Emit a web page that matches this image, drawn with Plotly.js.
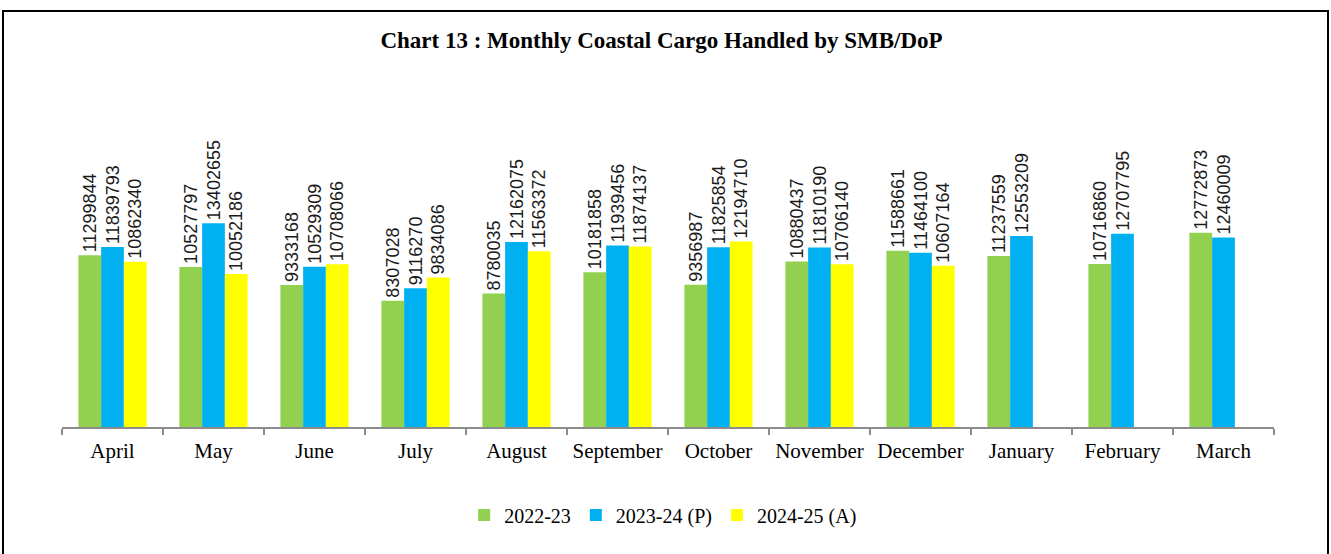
<!DOCTYPE html>
<html>
<head>
<meta charset="utf-8">
<script src="https://cdn.plot.ly/plotly-3.0.1.min.js"></script>
<style>
html,body{margin:0;padding:0;background:#fff;overflow:hidden;}
#chart{width:1331px;height:554px;}
#frame{position:absolute;left:2px;top:10px;width:1323px;height:560px;border:2px solid #000;pointer-events:none;}
</style>
</head>
<body>
<div id="chart"></div>
<div id="frame"></div>
<script>
const months = ["April","May","June","July","August","September","October","November","December","January","February","March"];
const s2022 = [11299844,10527797,9333168,8307028,8780035,10181858,9356987,10880437,11588661,11237559,10716860,12772873];
const s2023 = [11839793,13402655,10529309,9116270,12162075,11939456,11825854,11810190,11464100,12553209,12707795,12460009];
const s2024 = [10862340,10052186,10708066,9834086,11563372,11874137,12194710,10706140,10607164,null,null,null];
const seriesNames = ["2022-23","2023-24 (P)","2024-25 (A)"];
const colors = ["#92D050","#00B0F0","#FFFF00"];

const labelFont = {family:"Liberation Sans Narrow, Arial Narrow, sans-serif", size:18, color:"#1a1a1a"};
function mk(vals, i){
  return {
    type:"bar", x:months, y:vals, name:seriesNames[i],
    marker:{color:colors[i], line:{width:0}},
    text:vals.map(v => v==null ? "" : String(v)),
    textposition:"outside", textangle:-90, cliponaxis:false, constraintext:"none",
    textfont:labelFont, hoverinfo:"skip"
  };
}
const data = [mk(s2022,0), mk(s2023,1), mk(s2024,2)];
const layout = {
  width:1331, height:554,
  margin:{l:62, r:57, t:100, b:127},
  paper_bgcolor:"#fff", plot_bgcolor:"#fff",
  barmode:"group", bargap:0.325, bargroupgap:0,
  title:{text:"<b>Chart 13 : Monthly Coastal Cargo Handled by SMB/DoP</b>",
    font:{family:"Liberation Serif, Times New Roman, serif", size:23, color:"#000"},
    x:0.497, xanchor:"center", y:1-40/554, yanchor:"middle", yref:"container"},
  xaxis:{type:"category", showline:true, linecolor:"#8c8c8c", linewidth:1.5,
    ticks:"outside", tickson:"boundaries", ticklen:6, tickcolor:"#8c8c8c", tickwidth:1.5,
    tickfont:{family:"Liberation Serif, Times New Roman, serif", size:21, color:"#000"},
    ticklabelstandoff:4,
    showgrid:false, zeroline:false, fixedrange:true},
  yaxis:{range:[0,21.5e6], visible:false, showgrid:false, zeroline:false, fixedrange:true},
  showlegend:true,
  legend:{orientation:"h", x:0.496, xanchor:"center", y:-0.269, yanchor:"middle",
    font:{family:"Liberation Serif, Times New Roman, serif", size:20, color:"#000"},
    itemwidth:30, traceorder:"normal"}
};
Plotly.newPlot("chart", data, layout, {displayModeBar:false, staticPlot:true});
</script>
</body>
</html>
